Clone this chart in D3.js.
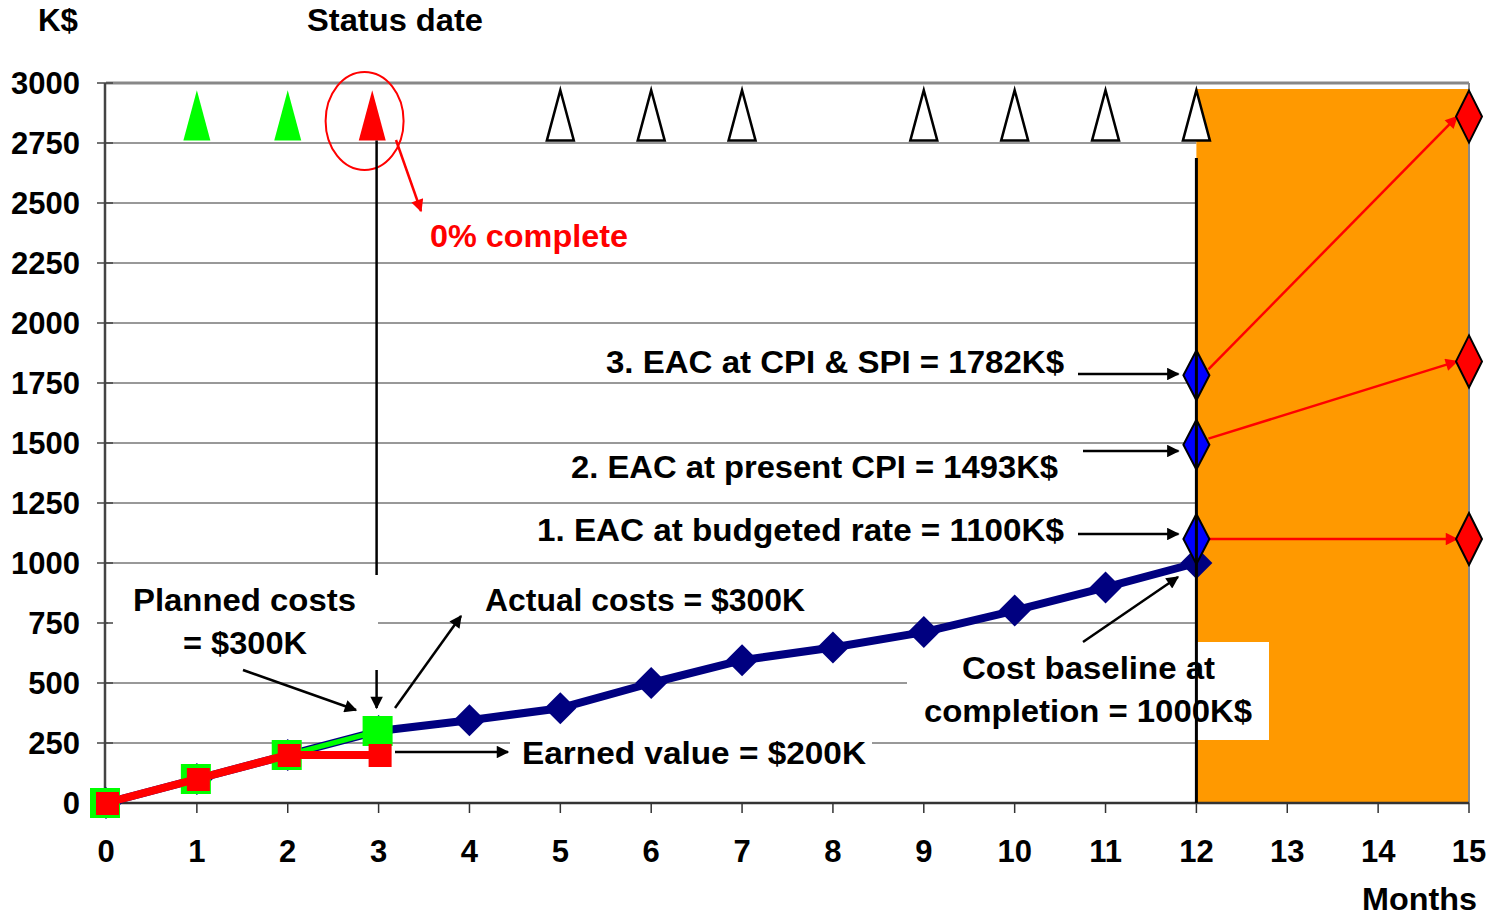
<!DOCTYPE html>
<html><head><meta charset="utf-8">
<script src="https://cdn.jsdelivr.net/npm/d3@7"></script>
<style>
html,body{margin:0;padding:0;background:#fff;}
svg text{font-family:"Liberation Sans",Arial,sans-serif;font-weight:bold;}
</style></head>
<body>
<svg id="chart" width="1495" height="920"></svg>
<script>
// ---- data ----
const monthTicks = [0,1,2,3,4,5,6,7,8,9,10,11,12,13,14,15];
const yTicks = [0,250,500,750,1000,1250,1500,1750,2000,2250,2500,2750,3000];
const baselineMonths = [0,1,2,3,4,5,6,7,8,9,10,11,12];
const baselineValues = [0,100,200,300,345,395,500,595,648,712,802,898,1000];
const plannedMonths = [0,1,2,3];
const plannedValues = [0,100,200,300];
const earnedMonths = [0,1,2,3];
const earnedValues = [0,100,200,200];
const milestoneMonths = [1,2,2.93,5,6,7,9,10,11,12];
const milestoneFills = ["#00ff00","#00ff00","#ff0000","#fff","#fff","#fff","#fff","#fff","#fff","#fff"];
const eacValues = [1100,1493,1782];
const eacForecast = [1100,1840,2860];
const eacLabels = ["1. EAC at budgeted rate = 1100K$","2. EAC at present CPI = 1493K$","3. EAC at CPI & SPI = 1782K$"];
const statusMonth = 3;
const completionMonth = 12;
const endMonth = 15;

// ---- scales ----
const svg = d3.select("#chart");
const x = d3.scaleLinear().domain([0,15]).range([106,1469]);
const y = d3.scaleLinear().domain([0,3000]).range([803,83]);
const FS = 31, AFS = 32;

function label(xp, yp, str, width, anchor, color){
  const t = svg.append("text").attr("x",xp).attr("y",yp).attr("font-size",AFS)
    .attr("text-anchor",anchor||"start").attr("fill",color||"#000").text(str);
  if (width) t.attr("textLength",width).attr("lengthAdjust","spacingAndGlyphs");
  return t;
}

// defs: arrow markers
const defs = svg.append("defs");
function marker(id, color){
  defs.append("marker").attr("id",id).attr("viewBox","0 0 10 10").attr("refX",9).attr("refY",5)
    .attr("markerWidth",6).attr("markerHeight",5).attr("markerUnits","strokeWidth").attr("orient","auto")
    .append("path").attr("d","M0,0 L10,5 L0,10 z").attr("fill",color);
}
marker("arrK","#000");
marker("arrR","#ff0000");

// gridlines
svg.append("g").selectAll("line").data(yTicks.filter(d=>d>0 && d<3000)).join("line")
  .attr("x1",x(0)).attr("x2",x(completionMonth)).attr("y1",d=>y(d)).attr("y2",d=>y(d))
  .attr("stroke","#333").attr("stroke-width",1);

// orange forecast area
svg.append("rect").attr("x",x(completionMonth)).attr("y",y(2975))
  .attr("width",x(endMonth)-x(completionMonth)).attr("height",y(0)-y(2975)).attr("fill","#ff9900");

// frame
svg.append("line").attr("x1",x(0)).attr("x2",x(15)).attr("y1",y(3000)).attr("y2",y(3000)).attr("stroke","#888").attr("stroke-width",3);
svg.append("line").attr("x1",x(15)).attr("x2",x(15)).attr("y1",y(3000)).attr("y2",y(0)).attr("stroke","#888").attr("stroke-width",2);

// white label boxes
const boxes = [[108,575,270,93],[510,733,362,42],[907,642,362,98]];
svg.append("g").selectAll("rect").data(boxes).join("rect")
  .attr("x",d=>d[0]).attr("y",d=>d[1]).attr("width",d=>d[2]).attr("height",d=>d[3]).attr("fill","#fff");

// axes
svg.append("line").attr("x1",x(0)-1).attr("x2",x(0)-1).attr("y1",y(3000)).attr("y2",y(0)).attr("stroke","#444").attr("stroke-width",2.5);
svg.append("line").attr("x1",x(0)).attr("x2",x(15)).attr("y1",y(0)).attr("y2",y(0)).attr("stroke","#333").attr("stroke-width",2.5);
svg.append("g").selectAll("line").data(yTicks).join("line")
  .attr("x1",x(0)-9).attr("x2",x(0)+7).attr("y1",d=>y(d)).attr("y2",d=>y(d)).attr("stroke","#444").attr("stroke-width",1.5);
svg.append("g").selectAll("line").data(monthTicks).join("line")
  .attr("x1",d=>x(d)).attr("x2",d=>x(d)).attr("y1",y(0)).attr("y2",y(0)+10).attr("stroke","#333").attr("stroke-width",1.5);

// tick labels
svg.append("g").selectAll("text").data(yTicks).join("text")
  .attr("x",80).attr("y",d=>y(d)+11).attr("text-anchor","end").attr("font-size",FS).text(d=>d);
svg.append("g").selectAll("text").data(monthTicks).join("text")
  .attr("x",d=>x(d)).attr("y",862).attr("text-anchor","middle").attr("font-size",FS).text(d=>d);
label(1362, 910, "Months", 115);
label(38, 31, "K$", 40);
label(307, 31, "Status date", 176);

// milestones
const triTop = y(2970), triBase = y(2760), triHW = 13.5;
svg.append("g").selectAll("path").data(milestoneMonths).join("path")
  .attr("d",(m)=>`M${x(m)},${triTop} L${x(m)+triHW},${triBase} L${x(m)-triHW},${triBase} Z`)
  .attr("fill",(m,i)=>milestoneFills[i])
  .attr("stroke",(m,i)=>milestoneFills[i]==="#fff"?"#000":"none")
  .attr("stroke-width",2.5).attr("stroke-linejoin","miter");

// status circle & 0% complete
svg.append("ellipse").attr("cx",x(statusMonth)-14).attr("cy",121).attr("rx",39).attr("ry",49)
  .attr("fill","none").attr("stroke","#ff0000").attr("stroke-width",2);
svg.append("line").attr("x1",396).attr("y1",140).attr("x2",421).attr("y2",211)
  .attr("stroke","#ff0000").attr("stroke-width",2.5).attr("marker-end","url(#arrR)");
label(430, 247, "0% complete", 198, "start", "#ff0000");

// status date line
svg.append("line").attr("x1",x(statusMonth)-2).attr("x2",x(statusMonth)-2).attr("y1",triBase).attr("y2",575)
  .attr("stroke","#000").attr("stroke-width",2.5);
svg.append("line").attr("x1",x(statusMonth)-2).attr("x2",x(statusMonth)-2).attr("y1",670).attr("y2",708)
  .attr("stroke","#000").attr("stroke-width",2.5).attr("marker-end","url(#arrK)");

// baseline (navy)
const line = d3.line().x(d=>x(d[0])).y(d=>y(d[1]));
const base = baselineMonths.map((m,i)=>[m,baselineValues[i]]);
svg.append("path").attr("d",line(base)).attr("fill","none").attr("stroke","#000080").attr("stroke-width",8).attr("stroke-linejoin","round");
svg.append("g").selectAll("path").data(base).join("path")
  .attr("d",d=>`M${x(d[0])},${y(d[1])-16} l16,16 l-16,16 l-16,-16 Z`).attr("fill","#000080");

// planned (green)
const pv = plannedMonths.map((m,i)=>[m,plannedValues[i]]);
svg.append("path").attr("d",line(pv)).attr("fill","none").attr("stroke","#00ff00").attr("stroke-width",5);
svg.append("g").selectAll("rect").data(pv).join("rect")
  .attr("x",d=>x(d[0])-16).attr("y",d=>y(d[1])-15).attr("width",30).attr("height",30).attr("fill","#00ff00");

// earned (red)
const ev = earnedMonths.map((m,i)=>[m,earnedValues[i]]);
svg.append("path").attr("d",line(ev)).attr("fill","none").attr("stroke","#ff0000").attr("stroke-width",8);
svg.append("g").selectAll("rect").data(ev).join("rect")
  .attr("x",d=>x(d[0])-10).attr("y",d=>y(d[1])-11).attr("width",23).attr("height",23).attr("fill","#ff0000");

// EAC red forecast arrows
svg.append("g").selectAll("line").data(eacValues).join("line")
  .attr("x1",x(completionMonth)+12).attr("y1",(d,i)=>y(d)-(i===0?0:6))
  .attr("x2",x(endMonth)-12).attr("y2",(d,i)=>y(eacForecast[i]))
  .attr("stroke","#ff0000").attr("stroke-width",2.5).attr("marker-end","url(#arrR)");

// blue EAC diamonds
svg.append("g").selectAll("path").data(eacValues).join("path")
  .attr("d",d=>`M${x(completionMonth)},${y(d)-25} l13,25 l-13,25 l-13,-25 Z`)
  .attr("fill","#0000ff").attr("stroke","#000").attr("stroke-width",2);
// red forecast diamonds
svg.append("g").selectAll("path").data(eacForecast).join("path")
  .attr("d",d=>`M${x(endMonth)},${y(d)-26} l13,26 l-13,26 l-13,-26 Z`)
  .attr("fill","#ff0000").attr("stroke","#000").attr("stroke-width",2);

// completion line
svg.append("line").attr("x1",x(completionMonth)).attr("x2",x(completionMonth)).attr("y1",158).attr("y2",y(0))
  .attr("stroke","#000").attr("stroke-width",3);

// EAC labels and black arrows
const eacLabelX = [1064,1058,1064];
const eacLabelY = [541,478,373];
const eacLabelW = [527,487,458];
const eacArrowY = [534,451,374];
const eacArrowX = [1078,1083,1078];
eacLabels.forEach((s,i)=>label(eacLabelX[i]-eacLabelW[i], eacLabelY[i], s, eacLabelW[i]));
svg.append("g").selectAll("line").data(eacValues).join("line")
  .attr("x1",(d,i)=>eacArrowX[i]).attr("x2",x(completionMonth)-18).attr("y1",(d,i)=>eacArrowY[i]).attr("y2",(d,i)=>eacArrowY[i])
  .attr("stroke","#000").attr("stroke-width",2.5).attr("marker-end","url(#arrK)");

// annotations
label(133, 611, "Planned costs", 223);
label(183, 654, "= $300K", 124);
svg.append("line").attr("x1",243).attr("y1",670).attr("x2",356).attr("y2",710)
  .attr("stroke","#000").attr("stroke-width",2.5).attr("marker-end","url(#arrK)");
label(485, 611, "Actual costs = $300K", 320);
svg.append("line").attr("x1",395).attr("y1",708).attr("x2",461).attr("y2",616)
  .attr("stroke","#000").attr("stroke-width",2.5).attr("marker-end","url(#arrK)");
label(522, 764, "Earned value = $200K", 344);
svg.append("line").attr("x1",395).attr("y1",752).attr("x2",508).attr("y2",752)
  .attr("stroke","#000").attr("stroke-width",2.5).attr("marker-end","url(#arrK)");
label(962, 679, "Cost baseline at", 253);
label(924, 722, "completion = 1000K$", 328);
svg.append("line").attr("x1",1083).attr("y1",642).attr("x2",1178).attr("y2",577)
  .attr("stroke","#000").attr("stroke-width",2.5).attr("marker-end","url(#arrK)");
</script>
</body></html>
